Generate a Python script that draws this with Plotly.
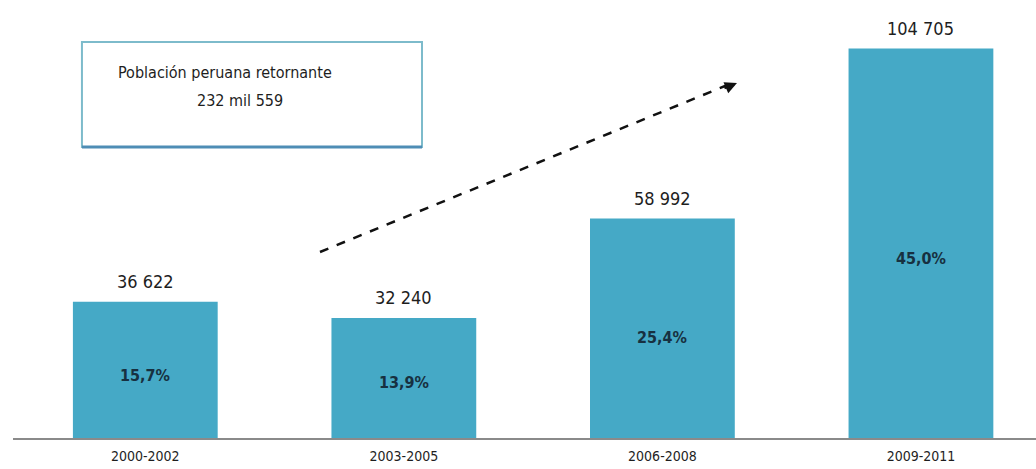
import plotly.graph_objects as go

periods = ["2000-2002", "2003-2005", "2006-2008", "2009-2011"]
returnees = [36622, 32240, 58992, 104705]
total = 232559

BAR = "#45A9C6"
TXT = "#1e1e1e"
FONT = "Liberation Sans Narrow, Arial Narrow, DejaVu Sans Condensed, sans-serif"

def fmt_int(v):
    return f"{v:,}".replace(",", " ")

pct_labels = [f"{v / total * 100:.1f}%".replace(".", ",") for v in returnees]

fig = go.Figure(go.Bar(
    x=periods, y=returnees, marker=dict(color=BAR, line=dict(width=0)),
    width=0.56, hoverinfo="skip",
))

ann = []
for p, v, pl in zip(periods, returnees, pct_labels):
    ann.append(dict(x=p, y=v, text=fmt_int(v), showarrow=False, yanchor="bottom",
                    yshift=8, font=dict(family=FONT, size=18, color=TXT)))
    ann.append(dict(x=p, y=v * 0.46, text=f"<b>{pl}</b>", showarrow=False,
                    yanchor="middle", font=dict(family=FONT, size=16, color="#173040")))

# box text
ann.append(dict(xref="paper", yref="paper", x=0.207, y=0.835, showarrow=False,
                xanchor="center", text="Población peruana retornante", yanchor="middle",
                font=dict(family=FONT, size=16, color=TXT)))
ann.append(dict(xref="paper", yref="paper", x=0.222, y=0.771, showarrow=False,
                xanchor="center", text=f"{total // 1000} mil {total % 1000}", yanchor="middle",
                font=dict(family=FONT, size=16, color=TXT)))
# arrow head
ann.append(dict(xref="paper", yref="paper", x=0.7077, y=0.8105, ax=-14, ay=6,
                axref="pixel", ayref="pixel", text="", showarrow=True,
                arrowhead=2, arrowsize=1.1, arrowwidth=2.2, arrowcolor="#111"))

shapes = [
    dict(type="rect", xref="paper", yref="paper", x0=0.0674, x1=0.3998, y0=0.6644, y1=0.9041,
         line=dict(color="#7DBBCB", width=2), fillcolor="white", layer="below"),
    dict(type="line", xref="paper", yref="paper", x0=0.0674, x1=0.3998, y0=0.6644, y1=0.6644,
         line=dict(color="#4E8DB5", width=3)),
    dict(type="line", xref="paper", yref="paper", x0=0.3001, y0=0.4247, x1=0.700, y1=0.8075,
         line=dict(color="#111", width=2.5, dash="dash")),
]

fig.update_layout(
    width=1036, height=469,
    margin=dict(l=13, r=0, t=0, b=31),
    paper_bgcolor="white", plot_bgcolor="white",
    showlegend=False,
    annotations=ann, shapes=shapes,
    xaxis=dict(range=[-0.5117, 3.445], showgrid=False, zeroline=False,
               showline=True, linecolor="#8a8a8a", linewidth=2,
               ticks="", ticklabelstandoff=4,
               tickfont=dict(family=FONT, size=14, color=TXT)),
    yaxis=dict(range=[0, 117745], visible=False, showgrid=False, zeroline=False),
)

fig.write_html("out.html", config={"displayModeBar": False},
               post_script="document.body.style.margin='0';")
